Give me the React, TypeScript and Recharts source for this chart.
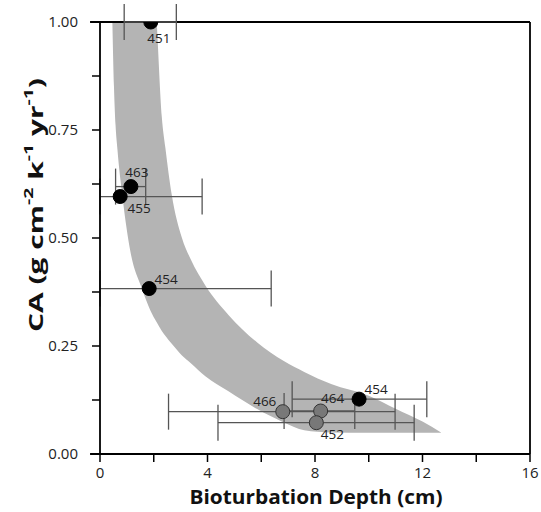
import React from 'react';
import { ComposedChart, Area, Scatter, ErrorBar, XAxis, YAxis, ReferenceLine } from 'recharts';

// envelope (grey band); upper edge runs above the frame left of x≈2.1
const bandX = [0.46, 0.52, 0.58, 0.65, 0.85, 1.12, 1.56, 1.87, 2.11, 2.3, 2.43, 2.67, 3.05, 3.38, 3.92, 4.78, 5.85, 6.84, 7.6, 8.6, 10.0, 11.0, 12.0, 12.69];
const bandLow = [1.0, 0.85, 0.76, 0.704, 0.588, 0.472, 0.383, 0.333, 0.305, 0.285, 0.274, 0.255, 0.228, 0.21, 0.18, 0.145, 0.104, 0.073, 0.055, 0.05, 0.049, 0.049, 0.049, 0.049];
const bandHigh = [1.0, 1.0, 1.0, 1.0, 1.0, 1.0, 1.0, 1.25, 1.0, 0.78, 0.71, 0.6, 0.5, 0.45, 0.39, 0.322, 0.258, 0.215, 0.19, 0.162, 0.135, 0.105, 0.075, 0.05];

// black cores
const blackIds = ['451', '463', '455', '454', '454'];
const blackX = [1.89, 1.15, 0.75, 1.83, 9.64];
const blackY = [1.0, 0.619, 0.596, 0.383, 0.127];
const blackXLow = [0.9, 0.58, 0, 0, 7.15];
const blackXHigh = [2.84, 1.7, 3.8, 6.37, 12.16];

// grey cores
const greyIds = ['466', '464', '452'];
const greyX = [6.8, 8.21, 8.05];
const greyY = [0.098, 0.0995, 0.0725];
const greyXLow = [2.55, 6.85, 4.39];
const greyXHigh = [10.98, 9.48, 11.69];

const xTicks = [0, 2, 4, 6, 8, 10, 12, 14, 16];
const yTicks = [0, 0.125, 0.25, 0.375, 0.5, 0.625, 0.75, 0.875, 1];

// label placement relative to the dot (px)
const blackLabelOffset = [[8, 16], [6, -15], [19, 11], [17, -10], [17, -10]];
const greyLabelOffset = [[-18, -11], [12, -13], [16, 11]];

const FONT = '"Open Sans", sans-serif';

const bandData = bandX.map((x, i) => ({ x, band: [bandLow[i], bandHigh[i]] }));

const buildPoints = (ids: string[], xs: number[], ys: number[], lo: number[], hi: number[], offs: number[][]) =>
  ids.map((id, i) => ({
    id,
    x: xs[i],
    y: ys[i],
    err: [xs[i] - lo[i], hi[i] - xs[i]],
    dx: offs[i][0],
    dy: offs[i][1],
  }));

const blackPts = buildPoints(blackIds, blackX, blackY, blackXLow, blackXHigh, blackLabelOffset);
const greyPts = buildPoints(greyIds, greyX, greyY, greyXLow, greyXHigh, greyLabelOffset);

const makeDot = (fill: string, stroke: string) => (props: any) => {
  const { cx, cy, payload } = props;
  return (
    <g>
      <circle cx={cx} cy={cy} r={7} fill={fill} stroke={stroke} strokeWidth={1} />
      <text
        x={cx + payload.dx}
        y={cy + payload.dy}
        textAnchor="middle"
        dominantBaseline="central"
        fontSize={13.5}
        fontFamily={FONT}
        fill="#222"
      >
        {payload.id}
      </text>
    </g>
  );
};

const YTitle = () => (
  <text
    transform="translate(35,205) rotate(-90)"
    textAnchor="middle"
    dominantBaseline="central"
    fontSize={20}
    fontWeight="bold"
    fontFamily={FONT}
    textLength={254}
    lengthAdjust="spacingAndGlyphs"
    fill="#111"
  >
    CA (g cm<tspan dy={-7} fontSize={13}>-2</tspan>
    <tspan dy={7}> k</tspan>
    <tspan dy={-7} fontSize={13}>-1</tspan>
    <tspan dy={7}> yr</tspan>
    <tspan dy={-7} fontSize={13}>-1</tspan>
    <tspan dy={7}>)</tspan>
  </text>
);

const XTitle = () => (
  <text
    x={316}
    y={504}
    textAnchor="middle"
    fontSize={20}
    fontWeight="bold"
    fontFamily={FONT}
    textLength={253}
    lengthAdjust="spacingAndGlyphs"
    fill="#111"
  >
    Bioturbation Depth (cm)
  </text>
);

export default function App() {
  return (
    <div style={{ position: 'absolute', left: 0, top: 0, background: '#fff' }}>
      <ComposedChart width={541} height={512} data={bandData} margin={{ top: 22, right: 11, left: 0, bottom: 0 }}>
        <XAxis
          type="number"
          dataKey="x"
          domain={[0, 16]}
          ticks={xTicks}
          interval={0}
          allowDataOverflow
          height={58}
          tickSize={8}
          tickMargin={5}
          axisLine={{ stroke: '#000', strokeWidth: 1.8 }}
          tickLine={{ stroke: '#000', strokeWidth: 1.5 }}
          tick={{ fontSize: 15, fontFamily: FONT, fill: '#222' }}
          tickFormatter={(v: number) => (v % 4 === 0 ? String(v) : '')}
          label={{ content: () => <XTitle /> }}
        />
        <YAxis
          type="number"
          dataKey="y"
          domain={[0, 1]}
          ticks={yTicks}
          interval={0}
          allowDataOverflow
          width={100}
          tickSize={8}
          tickMargin={14}
          axisLine={{ stroke: '#000', strokeWidth: 1.8 }}
          tickLine={{ stroke: '#000', strokeWidth: 1.5 }}
          tick={{ fontSize: 15, fontFamily: FONT, fill: '#222' }}
          tickFormatter={(v: number) => (Math.abs((v * 4) % 1) < 1e-9 ? v.toFixed(2) : '')}
          label={{ content: () => <YTitle /> }}
        />
        <Area
          type="monotone"
          dataKey="band"
          fill="#b4b4b4"
          fillOpacity={1}
          stroke="none"
          isAnimationActive={false}
          dot={false}
          activeDot={false}
        />
        <ReferenceLine segment={[{ x: -0.37, y: 1 }, { x: 16, y: 1 }]} stroke="#000" strokeWidth={1.8} ifOverflow="visible" />
        <ReferenceLine segment={[{ x: -0.37, y: 0 }, { x: 16, y: 0 }]} stroke="#000" strokeWidth={1.8} ifOverflow="visible" />
        <ReferenceLine x={16} stroke="#000" strokeWidth={1.8} />
        <Scatter data={greyPts} isAnimationActive={false} shape={makeDot('#787878', '#333')}>
          <ErrorBar dataKey="err" direction="x" width={18} stroke="#555" strokeWidth={1.3} />
        </Scatter>
        <Scatter data={blackPts} isAnimationActive={false} shape={makeDot('#000', '#000')}>
          <ErrorBar dataKey="err" direction="x" width={18} stroke="#555" strokeWidth={1.3} />
        </Scatter>
      </ComposedChart>
    </div>
  );
}
